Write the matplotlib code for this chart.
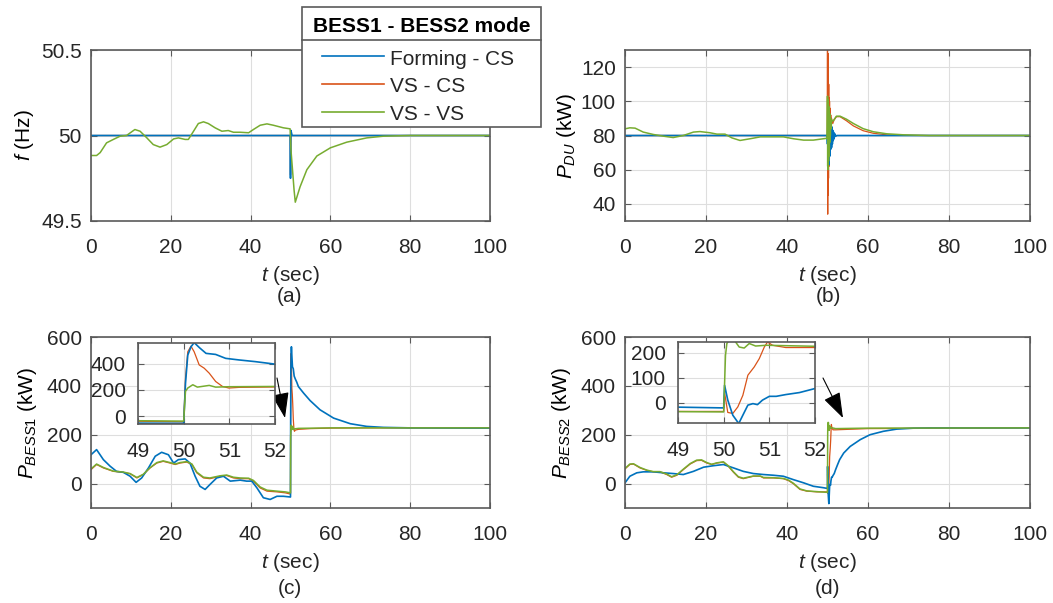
import matplotlib
matplotlib.use('Agg')
import matplotlib.pyplot as plt
from matplotlib.lines import Line2D
from matplotlib.patches import Rectangle

plt.rcParams['font.family'] = ['Liberation Sans', 'DejaVu Sans']
plt.rcParams['mathtext.fontset'] = 'custom'
plt.rcParams['mathtext.rm'] = 'Liberation Sans'
plt.rcParams['mathtext.it'] = 'Liberation Sans:italic'
plt.rcParams['font.size'] = 15

C_BLUE = '#0072BD'
C_ORANGE = '#D95319'
C_GREEN = '#77AC30'

labels = ['Forming - CS', 'VS - CS', 'VS - VS']
legend_title = 'BESS1 - BESS2 mode'

# ---- (a) frequency ----
f_blue_t = [0, 49.9, 50.0, 50.1, 50.2, 50.4, 51.0, 100]
f_blue = [50.0, 50.0, 49.75, 50.03, 50.02, 50.0, 50.0, 50.0]
f_orange_t = [0, 49.95, 50.0, 50.1, 100]
f_orange = [50.0, 50.0, 49.77, 50.0, 50.0]
f_green_t = [0, 1.4, 2.3, 3.9, 5.6, 7.3, 8.9, 11, 12.3, 14, 15.6, 17.3, 19, 20.7, 21.9, 23.6,
             24.4, 25.7, 26.9, 28.2, 29.4, 31.1, 32.8, 34.4, 35.7, 37.4, 39.5, 40.7, 42.4, 44.1,
             45.7, 48.2, 49.9, 50.1, 50.5, 50.9, 51.2, 51.6, 52.4, 54.1, 56.6, 60, 64.1, 69.1,
             73.3, 80, 100]
f_green = [49.883, 49.883, 49.9, 49.957, 49.977, 49.996, 50.0, 50.035, 50.025, 49.986, 49.947,
           49.932, 49.947, 49.98, 49.986, 49.977, 49.977, 50.025, 50.07, 50.08, 50.07, 50.045,
           50.025, 50.029, 50.019, 50.019, 50.016, 50.035, 50.06, 50.068, 50.06, 50.045, 50.039,
           49.92, 49.8, 49.68, 49.61, 49.64, 49.70, 49.80, 49.88, 49.928, 49.961, 49.986,
           49.996, 50.0, 50.0]

# ---- (b) P_DU ----
p_blue_t = [0, 49.9, 50.0, 50.1, 50.2, 50.3, 50.4, 50.5, 50.6, 50.7, 50.8, 50.9, 51.0, 51.1,
            51.2, 51.3, 51.4, 51.5, 51.6, 51.8, 52.0, 52.3, 100]
p_blue = [80, 80, 75, 86, 70, 88, 63, 85, 68, 84, 72, 87, 73, 85, 75, 83, 77, 82, 78, 81,
          79.5, 80, 80]
p_orange_t = [0, 49.95, 50.0, 50.05, 50.1, 50.15, 50.2, 50.25, 50.3, 50.35, 50.4, 50.45, 50.5,
              50.55, 50.6, 50.7, 50.8, 50.9, 51.0, 51.3, 51.6, 52.2, 53.1, 54.7, 56.4, 58.8,
              61.3, 64.6, 68.8, 75, 100]
p_orange = [80, 80, 132, 34, 128, 45, 116, 55, 110, 62, 102, 68, 100, 72, 96, 78, 92, 85, 90,
            87, 89, 91, 91, 88.6, 85.6, 82.8, 81.3, 80.4, 80.1, 80, 80]
p_green_t = [0, 1.2, 2.5, 4.5, 7, 9.5, 11.9, 14.4, 16.9, 18.5, 21, 22.7, 24.7, 26.4, 28.4, 30.9,
             33.4, 35.8, 39.1, 41.6, 44.1, 46.5, 49, 49.9, 50.0, 50.05, 50.1, 50.15, 50.2, 50.25,
             50.3, 50.35, 50.4, 50.45, 50.5, 50.55, 50.6, 50.7, 50.8, 50.9, 51.0, 51.4, 52.2,
             53.1, 54.7, 56.4, 58.8, 61.3, 64.6, 68.8, 75, 100]
p_green = [83.9, 84.5, 84.3, 82, 80.6, 79.6, 78.8, 80, 82, 82.3, 81.6, 80.8, 80.8, 78.6, 77.1,
           78.1, 79.2, 79.2, 79.2, 78.1, 77.3, 77.3, 78.1, 78.4, 103, 62, 101, 60, 99, 65, 97,
           68, 95, 72, 93, 76, 92, 80, 90, 84, 89, 88.5, 91.3, 91.3, 89.5, 87, 84, 82.2,
           81, 80.4, 80, 80]

# ---- (c) P_BESS1 ----
c_blue_t = [0, 1.4, 3.1, 4.8, 6.4, 8.1, 9.8, 11.3, 12.7, 14.4, 16.1, 17.7, 19.4, 20.7, 21.9,
            23.6, 24.8, 26.1, 27.3, 28.6, 29.8, 31.5, 33.2, 34.9, 37.4, 39.0, 40.3, 41.6, 43.2,
            44.9, 46.6, 48.2, 50.0, 50.04, 50.09, 50.16, 50.23, 50.35, 50.49, 50.7, 50.92,
            51.21, 51.57, 51.98, 53.3, 54.9, 57.4, 60.8, 65, 69.1, 73.3, 80, 100]
c_blue = [118, 139, 98, 71, 50, 46, 30, 5, 23, 64, 112, 128, 118, 84, 98, 101, 84, 30, -11,
          -24, -4, 23, 30, 10, 14, 10, 10, -18, -58, -65, -52, -52, -55, 250, 465, 528, 560,
          520, 478, 470, 440, 428, 415, 397, 370, 340, 302, 268, 245, 234, 230, 228, 227]
c_orange_t = [0, 1.4, 3.1, 5.6, 8.1, 9.8, 11.5, 13.1, 14.8, 16.5, 18.1, 19.8, 21.1, 22.3, 24.0,
              25.3, 26.5, 28.2, 29.8, 32.4, 34.0, 35.7, 37.4, 39.5, 40.7, 42.4, 44.1, 46.6,
              48.7, 50.0, 50.04, 50.09, 50.16, 50.23, 50.34, 50.45, 50.56, 50.7, 50.85, 50.99,
              51.21, 52, 55, 60, 70, 100]
c_orange = [57, 78, 64, 50, 46, 40, 23, 37, 64, 84, 91, 84, 78, 84, 88, 78, 44, 23, 20, 30, 33,
            23, 20, 20, 10, -18, -31, -34, -38, -43, 289, 490, 533, 490, 390, 365, 327, 264,
            226, 214, 219, 222, 225, 227, 228, 228]
c_green_t = [0, 1.4, 3.1, 5.6, 8.1, 9.8, 11.5, 13.1, 14.8, 16.5, 18.1, 19.8, 21.1, 22.3, 24.0,
             25.3, 26.5, 28.2, 29.8, 32.4, 34.0, 35.7, 37.4, 39.5, 40.7, 42.4, 44.1, 46.6, 48.7,
             50.0, 50.04, 50.09, 50.2, 50.3, 50.4, 50.56, 50.7, 51.0, 52, 60, 100]
c_green = [60, 80, 66, 51, 47, 41, 25, 38, 65, 86, 93, 86, 80, 86, 90, 80, 47, 26, 23, 32, 35,
           26, 23, 22, 13, -14, -27, -31, -34, -38, 189, 214, 239, 221, 226, 234, 221, 224,
           226, 228, 228]

# ---- (d) P_BESS2 ----
d_blue_t = [0, 1.2, 2.9, 4.5, 7, 9.5, 11.9, 14.4, 16.9, 19.4, 21.8, 24.3, 26.8, 29.2, 31.7,
            34.2, 36.7, 39.1, 41.6, 44.1, 46.5, 49, 50.0, 50.02, 50.09, 50.2, 50.33, 50.42,
            50.53, 50.64, 50.74, 50.85, 51.0, 51.15, 51.36, 51.66, 52.0, 52.5, 53, 54, 55.6,
            58.1, 60.5, 63.8, 67.1, 71.3, 75.4, 85, 100]
d_blue = [3, 30, 44, 48, 48, 44, 41, 37, 50, 67, 73, 78, 64, 50, 41, 37, 34, 30, 16, 3, -11,
          -17, -20, 70, 11, -49, -82, -49, -9, -3, -7, 11, 26, 26, 33, 41, 57, 78, 98, 125,
          152, 180, 200, 214, 223, 227, 228, 228, 228]
d_orange_t = [0, 1.2, 2.1, 3.7, 5.4, 7, 8.6, 10.3, 11.5, 12.8, 14.4, 16.1, 17.7, 18.9, 20.2,
              21.4, 22.7, 24.3, 25.5, 26.8, 28, 29.2, 31.7, 33.4, 34.2, 36.7, 39.1, 40.4, 41.6,
              43.2, 44.9, 47.4, 50.0, 50.02, 50.09, 50.2, 50.31, 50.42, 50.53, 50.67, 50.78,
              50.89, 50.96, 51.07, 51.36, 52, 55, 60, 100]
d_orange = [60, 78, 80, 64, 54, 48, 48, 37, 26, 34, 57, 80, 94, 95, 84, 78, 84, 88, 71, 46, 26,
            20, 30, 30, 23, 23, 20, 12, -1, -24, -31, -34, -34, 40, -38, -42, -16, 30, 110,
            143, 176, 222, 242, 229, 220, 220, 222, 225, 228]
d_green_t = [0, 1.2, 2.1, 3.7, 5.4, 7, 8.6, 10.3, 11.5, 12.8, 14.4, 16.1, 17.7, 18.9, 20.2,
             21.4, 22.7, 24.3, 25.5, 26.8, 28, 29.2, 31.7, 33.4, 34.2, 36.7, 39.1, 40.4, 41.6,
             43.2, 44.9, 47.4, 50.0, 50.04, 50.07, 50.12, 50.23, 50.34, 50.45, 50.56, 50.7,
             50.93, 52, 60, 100]
d_green = [62, 80, 81, 66, 55, 49, 49, 39, 28, 36, 59, 82, 96, 97, 86, 79, 85, 89, 73, 48, 28,
           22, 31, 31, 25, 24, 21, 14, 1, -22, -30, -33, -36, 189, 236, 250, 250, 222, 218,
           236, 226, 229, 225, 227, 228]

t_ticks = [0, 20, 40, 60, 80, 100]
zoom_ticks = [49, 50, 51, 52]
f_ticks = [49.5, 50, 50.5]
f_ticklabels = ['49.5', '50', '50.5']
pdu_ticks = [40, 60, 80, 100, 120]
pb_ticks = [0, 200, 400, 600]
c_zoom_ticks = [0, 200, 400]
d_zoom_ticks = [0, 100, 200]

W, H = 1053, 603
fig = plt.figure(figsize=(W / 100, H / 100), dpi=100)
EDGE = '#5a5a5a'
TXT = '#262626'


def box(x0, y0, x1, y1):
    # pixel box (from top-left) -> figure fraction rect
    return [x0 / W, 1 - y1 / H, (x1 - x0) / W, (y1 - y0) / H]


def style(ax, xlim, ylim, xticks, yticks, xpad=12, ypad=6.5):
    ax.set_xlim(*xlim)
    ax.set_ylim(*ylim)
    ax.set_xticks(xticks)
    ax.set_yticks(yticks)
    ax.grid(True, color='#dedede', lw=0.8)
    ax.set_axisbelow(True)
    ax.tick_params(direction='in', top=True, right=True, length=4, width=0.8,
                   color=EDGE, labelcolor=TXT, labelsize=15)
    ax.tick_params(axis='x', pad=xpad)
    ax.tick_params(axis='y', pad=ypad)
    for s in ax.spines.values():
        s.set_color(EDGE)
        s.set_linewidth(1.2)


def draw(ax, tb, yb, to, yo, tg, yg):
    ax.plot(to, yo, color=C_ORANGE, lw=0.9, zorder=2.0)
    ax.plot(tb, yb, color=C_BLUE, lw=1.2, zorder=2.1)
    ax.plot(tg, yg, color=C_GREEN, lw=1.1, zorder=2.2)


ax_a = fig.add_axes(box(91, 50, 490, 221))
ax_b = fig.add_axes(box(625, 50, 1030, 221))
ax_c = fig.add_axes(box(91, 337, 490, 508))
ax_d = fig.add_axes(box(625, 337, 1030, 508))

draw(ax_a, f_blue_t, f_blue, f_orange_t, f_orange, f_green_t, f_green)
style(ax_a, (0, 100), (49.5, 50.5), t_ticks, f_ticks)
ax_a.set_yticklabels(f_ticklabels)
ax_a.set_ylabel(r'$f$ (Hz)')

draw(ax_b, p_blue_t, p_blue, p_orange_t, p_orange, p_green_t, p_green)
style(ax_b, (0, 100), (30, 130), t_ticks, pdu_ticks)
ax_b.set_ylabel(r'$P_{DU}$ (kW)', labelpad=2)

draw(ax_c, c_blue_t, c_blue, c_orange_t, c_orange, c_green_t, c_green)
style(ax_c, (0, 100), (-100, 600), t_ticks, pb_ticks)
ax_c.set_ylabel(r'$P_{BESS1}$ (kW)', labelpad=6)

draw(ax_d, d_blue_t, d_blue, d_orange_t, d_orange, d_green_t, d_green)
style(ax_d, (0, 100), (-100, 600), t_ticks, pb_ticks)
ax_d.set_ylabel(r'$P_{BESS2}$ (kW)', labelpad=6)

for ax in (ax_a, ax_b, ax_c, ax_d):
    ax.set_xlabel(r'$t$ (sec)', labelpad=5.5, color=TXT)

# insets
in_c = fig.add_axes(box(138, 343, 275, 424))
draw(in_c, c_blue_t, c_blue, c_orange_t, c_orange, c_green_t, c_green)
style(in_c, (49, 52), (-60, 557), zoom_ticks, c_zoom_ticks, xpad=13, ypad=9)
in_c.set_zorder(5)

in_d = fig.add_axes(box(678, 342, 815, 423))
draw(in_d, d_blue_t, d_blue, d_orange_t, d_orange, d_green_t, d_green)
style(in_d, (49, 52), (-80, 242), zoom_ticks, d_zoom_ticks, xpad=13, ypad=9)
in_d.set_zorder(5)

# arrows pointing at the zoomed region
arrow = dict(arrowstyle='-|>,head_length=1.6,head_width=0.55', color='black', lw=0.8,
             mutation_scale=10, shrinkA=0, shrinkB=0)
ax_c.annotate('', xy=(285, H - 418), xytext=(277, H - 378), xycoords='figure pixels',
              textcoords='figure pixels', arrowprops=arrow, zorder=10)
ax_d.annotate('', xy=(843, H - 418), xytext=(823, H - 378), xycoords='figure pixels',
              textcoords='figure pixels', arrowprops=arrow, zorder=10)

# captions
for x, y, s in [(290, 296, '(a)'), (828, 296, '(b)'), (290, 588, '(c)'), (828, 588, '(d)')]:
    fig.text(x / W, 1 - y / H, s, ha='center', va='center', color=TXT)

# legend box drawn like the MATLAB one: title row with a separator line
fig.add_artist(Rectangle((302, H - 127), 239, 120, transform=None, facecolor='white',
                         edgecolor=EDGE, lw=1.2, zorder=20))
fig.add_artist(Line2D([302, 541], [H - 40, H - 40], transform=None, color=EDGE, lw=1.2,
                      zorder=21))
fig.text(421.5 / W, 1 - 31.5 / H, legend_title, ha='center', va='baseline',
         weight='bold', color='black', zorder=22)
for lab, col, yl, yb in zip(labels, [C_BLUE, C_ORANGE, C_GREEN], [56, 84, 112], [65, 92, 120]):
    fig.add_artist(Line2D([322, 384], [H - yl, H - yl], transform=None, color=col, lw=1.2,
                          zorder=22))
    fig.text(390 / W, 1 - yb / H, lab, ha='left', va='baseline', color=TXT, zorder=22)

fig.savefig('out.png', dpi=100)
